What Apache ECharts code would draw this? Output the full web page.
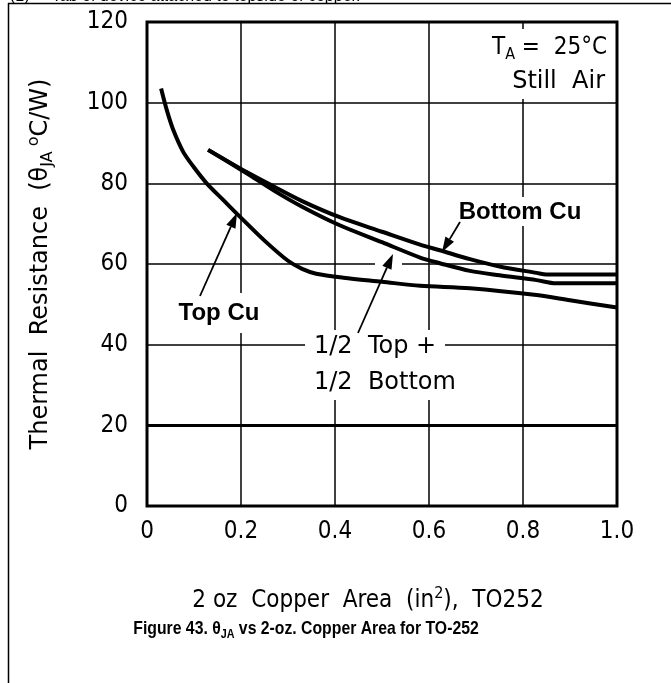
<!DOCTYPE html>
<html>
<head>
<meta charset="utf-8">
<script src="https://cdn.jsdelivr.net/npm/echarts@6/dist/echarts.min.js"></script>
<style>
  html, body { margin: 0; padding: 0; background: #fff; }
  #thermal_chart { width: 671px; height: 683px; }
</style>
</head>
<body>
<div id="thermal_chart"></div>
<script>
// x axis ticks (in^2) and y ticks (degC/W)
var xTicks = [0, 0.2, 0.4, 0.6, 0.8, 1.0];
var yTicks = [0, 20, 40, 60, 80, 100, 120];

// Top Cu
var topCuX = [0.03, 0.042, 0.056, 0.077, 0.099, 0.127, 0.162, 0.198, 0.25, 0.3, 0.33, 0.36, 0.418, 0.5, 0.581, 0.687, 0.829, 0.9, 1.0];
var topCuY = [103.5, 98.2, 93.2, 87.8, 84.1, 80, 75.9, 71.7, 65.8, 60.8, 58.8, 57.6, 56.6, 55.6, 54.6, 54.0, 52.3, 51.0, 49.2];

// Bottom Cu
var bottomCuX = [0.13, 0.212, 0.27, 0.33, 0.41, 0.5, 0.581, 0.623, 0.687, 0.75, 0.829, 0.85, 1.0];
var bottomCuY = [88.3, 82.8, 79.2, 75.6, 71.6, 68.0, 64.8, 63.4, 61.2, 59.4, 57.8, 57.4, 57.4];

// 1/2 Top + 1/2 Bottom
var halfX = [0.13, 0.212, 0.27, 0.33, 0.41, 0.5, 0.581, 0.623, 0.687, 0.75, 0.829, 0.87, 1.0];
var halfY = [88.3, 82.5, 78.2, 74.2, 69.6, 65.4, 61.6, 60.2, 58.3, 57.2, 56.0, 55.2, 55.2];

var narrowFont = '"DejaVu Sans Condensed", "Liberation Sans Narrow", "DejaVu Sans", sans-serif';
var wideFont = '"DejaVu Sans", sans-serif';
var boldFont = '"Liberation Sans", Arial, sans-serif';

function pairs(xs, ys) {
    return xs.map(function (x, i) { return [x, ys[i]]; });
}

function curve(name, xs, ys) {
    return {
        name: name,
        type: 'line',
        data: pairs(xs, ys),
        smooth: 0.3,
        showSymbol: false,
        silent: true,
        lineStyle: { color: '#000', width: 4 },
        z: 5
    };
}

// arrow = line + filled head
function arrow(x1, y1, x2, y2) {
    var dx = x2 - x1, dy = y2 - y1;
    var len = Math.sqrt(dx * dx + dy * dy);
    var ux = dx / len, uy = dy / len;
    var hl = 15, hw = 5;
    var bx = x2 - ux * hl, by = y2 - uy * hl;
    return [
        {
            type: 'line', z: 20,
            shape: { x1: x1, y1: y1, x2: bx, y2: by },
            style: { stroke: '#000', lineWidth: 1.8 }
        },
        {
            type: 'polygon', z: 20,
            shape: { points: [[x2, y2], [bx - uy * hw, by + ux * hw], [bx + uy * hw, by - ux * hw]] },
            style: { fill: '#000' }
        }
    ];
}

function whiteBox(x, y, w, h) {
    return { type: 'rect', z: 15, shape: { x: x, y: y, width: w, height: h }, style: { fill: '#fff' } };
}

var myChart = echarts.init(document.getElementById('thermal_chart'));

var graphics = [
    // page frame
    { type: 'line', shape: { x1: 8, y1: 3.5, x2: 671, y2: 3.5 }, style: { stroke: '#000', lineWidth: 1.5 } },
    { type: 'line', shape: { x1: 8.5, y1: 3, x2: 8.5, y2: 683 }, style: { stroke: '#000', lineWidth: 1.5 } },
    // clipped note at top of the page
    {
        type: 'text', x: 10, y: 5,
        style: { text: '(1)     Tab of device attached to topside of copper.', font: '16px ' + boldFont, fill: '#000', verticalAlign: 'bottom' }
    },
    // white cut-outs behind the notes
    whiteBox(478, 29, 136, 70),
    whiteBox(455, 197, 134, 29),
    whiteBox(176, 293, 86, 40),
    whiteBox(305, 330, 140, 70),
    whiteBox(375, 261, 27, 6),
    {
        type: 'text', x: 607, y: 33, z: 20,
        style: {
            text: '{a|T}{s|A}{a| =  25°C}',
            align: 'right', verticalAlign: 'top',
            rich: {
                a: { fontFamily: narrowFont, fontSize: 24, lineHeight: 30, fill: '#000' },
                s: { fontFamily: narrowFont, fontSize: 16, lineHeight: 16, verticalAlign: 'bottom', fill: '#000' }
            }
        }
    },
    {
        type: 'text', x: 605, y: 70, z: 20,
        style: { text: 'Still  Air', font: '24px ' + wideFont, fill: '#000', align: 'right', verticalAlign: 'top' }
    },
    {
        type: 'text', x: 520, y: 212, z: 20,
        style: { text: 'Bottom Cu', font: 'bold 24px ' + boldFont, fill: '#000', align: 'center', verticalAlign: 'middle' }
    },
    {
        type: 'text', x: 219, y: 313, z: 20,
        style: { text: 'Top Cu', font: 'bold 24px ' + boldFont, fill: '#000', align: 'center', verticalAlign: 'middle' }
    },
    {
        type: 'text', x: 314, y: 335, z: 20,
        style: { text: '1/2  Top +', font: '24px ' + wideFont, fill: '#000', verticalAlign: 'top' }
    },
    {
        type: 'text', x: 314, y: 371, z: 20,
        style: { text: '1/2  Bottom', font: '24px ' + wideFont, fill: '#000', verticalAlign: 'top' }
    },
    // figure caption (bold, slightly condensed)
    {
        type: 'text', x: 306, y: 629, scaleX: 0.83,
        style: {
            text: '{b|Figure 43. θ}{s|JA}{b| vs 2-oz. Copper Area for TO-252}',
            align: 'center', verticalAlign: 'middle',
            rich: {
                b: { fontFamily: boldFont, fontWeight: 'bold', fontSize: 19, lineHeight: 24, fill: '#000' },
                s: { fontFamily: boldFont, fontWeight: 'bold', fontSize: 13, lineHeight: 13, verticalAlign: 'bottom', fill: '#000' }
            }
        }
    }
]
    .concat(arrow(200, 296, 237, 213))
    .concat(arrow(460, 222, 442, 252))
    .concat(arrow(358, 333, 393, 254));

var options = {
    animation: false,
    backgroundColor: '#fff',
    grid: {
        left: 147,
        right: 54,
        top: 22,
        bottom: 177,
        show: true,
        borderColor: '#000',
        borderWidth: 3,
        z: 4
    },
    xAxis: {
        type: 'value',
        min: xTicks[0],
        max: xTicks[xTicks.length - 1],
        interval: 0.2,
        name: '{a|2 oz  Copper  Area  (in}{p|2}{a|),  TO252}',
        nameLocation: 'middle',
        nameGap: 80,
        nameTextStyle: {
            padding: [0, 28, 0, 0],
            rich: {
                a: { fontFamily: narrowFont, fontSize: 24, lineHeight: 30, color: '#000' },
                p: { fontFamily: narrowFont, fontSize: 16, lineHeight: 16, verticalAlign: 'top', color: '#000' }
            }
        },
        axisLine: { show: false },
        axisTick: { show: false },
        splitLine: { show: true, lineStyle: { color: '#000', width: 1.5 } },
        axisLabel: {
            color: '#000',
            fontFamily: narrowFont,
            fontSize: 24,
            margin: 14,
            formatter: function (v) { return v === 0 ? '0' : v.toFixed(1); }
        }
    },
    yAxis: {
        type: 'value',
        min: yTicks[0],
        max: yTicks[yTicks.length - 1],
        interval: 20,
        name: '{a|Thermal  Resistance  (θ}{s|JA}{p| o}{a|C/W)}',
        nameLocation: 'middle',
        nameRotate: 90,
        nameGap: 91,
        nameTextStyle: {
            rich: {
                a: { fontFamily: wideFont, fontSize: 24, lineHeight: 30, color: '#000' },
                s: { fontFamily: wideFont, fontSize: 16, lineHeight: 16, verticalAlign: 'bottom', color: '#000' },
                p: { fontFamily: wideFont, fontSize: 16, lineHeight: 16, verticalAlign: 'top', color: '#000' }
            }
        },
        axisLine: { show: false },
        axisTick: { show: false },
        splitLine: { show: true, lineStyle: { color: '#000', width: 1.5 } },
        axisLabel: {
            color: '#000',
            fontFamily: narrowFont,
            fontSize: 24,
            margin: 19
        }
    },
    graphic: graphics,
    series: [
        curve('Top Cu', topCuX, topCuY),
        curve('Bottom Cu', bottomCuX, bottomCuY),
        curve('1/2 Top + 1/2 Bottom', halfX, halfY),
        {
            // heavier 20 line
            type: 'line',
            data: [],
            silent: true,
            markLine: {
                silent: true,
                symbol: 'none',
                label: { show: false },
                lineStyle: { color: '#000', width: 3, type: 'solid' },
                data: [{ yAxis: yTicks[1] }]
            }
        }
    ]
};

myChart.setOption(options);
</script>
</body>
</html>
